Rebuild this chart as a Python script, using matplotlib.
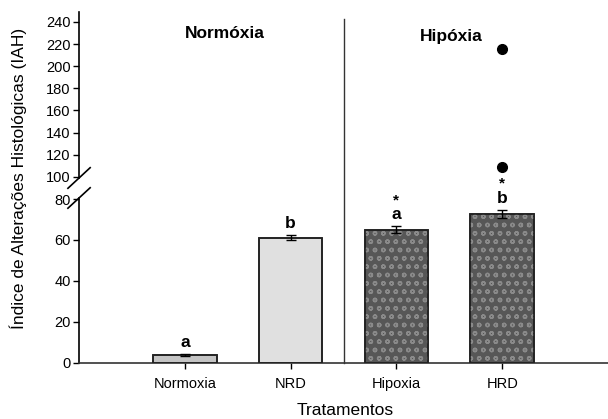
import matplotlib
matplotlib.use("Agg")
import matplotlib.pyplot as plt
from matplotlib.lines import Line2D
from matplotlib.transforms import blended_transform_factory

plt.rcParams['font.family'] = ['Liberation Sans', 'DejaVu Sans']

# dados
grupos = ["Normoxia", "NRD", "Hipoxia", "HRD"]
medias = [3.8, 61.0, 65.0, 72.5]
erros = [0.4, 1.2, 1.6, 2.0]
letras = ["a", "b", "a", "b"]
asteriscos = ["", "", "*", "*"]
outliers_hrd = [215.5, 109.0]
ticks_baixo = [0, 20, 40, 60, 80]
ticks_cima = [100, 120, 140, 160, 180, 200, 220, 240]

cores = ["#c4c4c4", "#e0e0e0", "#575757", "#575757"]
hachura = [None, None, "oo", "oo"]

fig = plt.figure(figsize=(6.08, 4.19), dpi=100)
ax_b = fig.add_axes([0.130, 0.1337, 0.870, 0.3938])
ax_t = fig.add_axes([0.130, 0.5752, 0.870, 0.3962])

x = list(range(1, len(grupos) + 1))

for ax in (ax_b, ax_t):
    ax.bar(x, medias, width=0.6, color=cores, edgecolor="#222222", linewidth=1.2, zorder=2)
    for xi, h in zip(x, hachura):
        if h:
            ax.bar(xi, medias[xi - 1], width=0.6, fill=False, hatch=h,
                   edgecolor="#8a8a8a", linewidth=0, zorder=3)
    ax.bar(x, medias, width=0.6, fill=False, edgecolor="#222222", linewidth=1.2, zorder=4)
    ax.errorbar(x, medias, yerr=erros, fmt="none", ecolor="black",
                elinewidth=1.0, capsize=3.5, capthick=1.0, zorder=5)
    ax.plot([4] * len(outliers_hrd), outliers_hrd, "o", color="black", ms=7, zorder=6)
    ax.set_xlim(0, 5)
    for s in ("top", "right"):
        ax.spines[s].set_visible(False)
    ax.spines["left"].set_linewidth(1.2)
    ax.tick_params(axis="both", direction="out", length=4, width=1, labelsize=10.5, pad=2)

ax_b.set_ylim(0, 80.5)
ax_b.set_yticks(ticks_baixo)
ax_b.set_xticks(x)
ax_b.set_xticklabels(grupos, fontsize=10.5)
ax_b.spines["bottom"].set_linewidth(1.2)
ax_b.spines["bottom"].set_color("#333333")
ax_b.tick_params(axis="x", pad=6)

ax_t.set_ylim(99, 249)
ax_t.set_yticks(ticks_cima)
ax_t.spines["bottom"].set_visible(False)
ax_t.set_xticks([])

# letras de significancia
for xi, m, e, l, s in zip(x, medias, erros, letras, asteriscos):
    ax_b.text(xi, m + e + 2.0, l, ha="center", va="bottom", fontsize=12.5,
              fontweight="bold", clip_on=False)
    if s:
        ax_b.text(xi, m + e + 9.5, s, ha="center", va="bottom", fontsize=11,
                  fontweight="bold", clip_on=False)

# marcas de quebra do eixo
dx, dy = 0.021, 0.062
ax_b.plot([-dx, dx], [1 - dy, 1 + dy], transform=ax_b.transAxes, color="black",
          lw=1.2, clip_on=False)
ax_t.plot([-dx, dx], [-dy, dy], transform=ax_t.transAxes, color="black",
          lw=1.2, clip_on=False)

# linha separadora
tr = blended_transform_factory(ax_b.transData, fig.transFigure)
fig.add_artist(Line2D([2.5, 2.5], [1 - 363 / 419, 1 - 19 / 419], transform=tr,
                      color="#333333", lw=1.0))

fig.text(225 / 608, 1 - 34 / 419, "Normóxia", ha="center", va="center",
         fontsize=12.5, fontweight="bold")
fig.text(451 / 608, 1 - 36 / 419, "Hipóxia", ha="center", va="center",
         fontsize=12.5, fontweight="bold")

fig.text(18 / 608, 1 - 178 / 419, "Índice de Alterações Histológicas (IAH)",
         rotation=90, ha="center", va="center", fontsize=12.5)
fig.text(345 / 608, 1 - 410 / 419, "Tratamentos", ha="center", va="center",
         fontsize=12.5)

fig.savefig("out.png", dpi=100, facecolor="white")
